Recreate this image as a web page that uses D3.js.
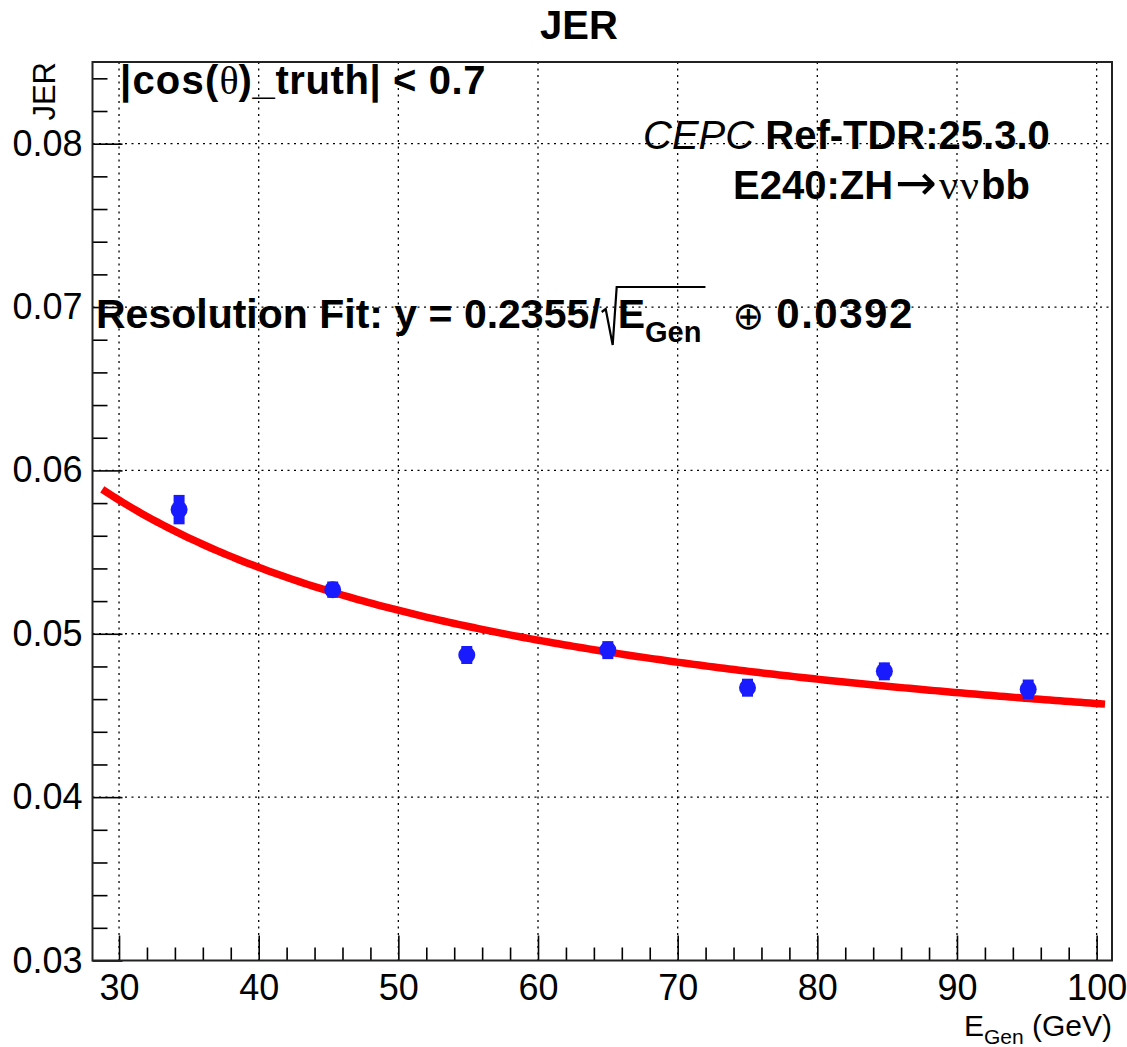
<!DOCTYPE html>
<html>
<head>
<meta charset="utf-8">
<script src="https://cdn.jsdelivr.net/npm/d3@7"></script>
<style>
  html, body { margin: 0; padding: 0; background: #ffffff; }
  svg { display: block; }
</style>
</head>
<body>
<script>
// Jet energy resolution versus generated energy, |cos(theta)| < 0.7
const energies  = [34.3, 45.3, 54.9, 65.0, 75.0, 84.8, 95.1];
const jerValues = [0.0576, 0.0527, 0.0487, 0.0490, 0.0467, 0.0477, 0.0466];
const jerErrors = [0.00090, 0.00050, 0.00055, 0.00055, 0.00055, 0.00055, 0.00060];

// Resolution fit: sqrt((a/sqrt(E))^2 + b^2)
const fitStochastic = 0.2355;
const fitConstant   = 0.0392;
const fitRange      = [28.8, 100.6];

const xMajorTicks = [30, 40, 50, 60, 70, 80, 90, 100];
const xMinorTicks = d3.range(32, 100, 2).filter(v => v % 10 !== 0);
const yMajorTicks = [0.03, 0.04, 0.05, 0.06, 0.07, 0.08];
const yMinorTicks = d3.range(16, 43).map(i => i * 0.002).filter(v => Math.abs(v * 100 - Math.round(v * 100)) > 1e-6);

const W = 1127, H = 1047;
const frame = { left: 92.5, top: 62, right: 1112, bottom: 960.5 };
const SANS = "'Liberation Sans', Arial, Helvetica, sans-serif";
const SERIF = "'Liberation Serif', 'DejaVu Serif', serif";
const SYMB = "'DejaVu Sans', sans-serif";

const svg = d3.select("body").append("svg")
  .attr("width", W).attr("height", H)
  .attr("viewBox", `0 0 ${W} ${H}`);
svg.append("rect").attr("width", W).attr("height", H).attr("fill", "#fff");

const x = d3.scaleLinear().domain([28.1, 101.1]).range([frame.left, frame.right]);
const y = d3.scaleLinear().domain([0.03, 0.085]).range([frame.bottom, frame.top]);

// dotted grid at major ticks
const grid = svg.append("g").attr("stroke", "#000").attr("stroke-width", 1.3)
  .attr("stroke-dasharray", "2,4.5").attr("fill", "none");
grid.selectAll("line.vx").data(xMajorTicks).join("line")
  .attr("x1", d => x(d)).attr("x2", d => x(d))
  .attr("y1", frame.top).attr("y2", frame.bottom);
grid.selectAll("line.hy").data(yMajorTicks.filter(v => v > 0.03)).join("line")
  .attr("x1", frame.left).attr("x2", frame.right)
  .attr("y1", d => y(d)).attr("y2", d => y(d));

// axes (ticks point inwards)
function styleAxis(g) {
  g.select(".domain").remove();
  g.selectAll(".tick line").attr("stroke", "#000").attr("stroke-width", 1.6);
  g.selectAll("text").attr("fill", "#000").style("font-family", SANS).style("font-size", "36px");
}
svg.append("g").attr("transform", `translate(0,${frame.bottom})`)
  .call(d3.axisBottom(x).tickValues(xMajorTicks).tickSize(-25).tickPadding(14).tickFormat(d3.format("d")))
  .call(styleAxis);
svg.append("g").attr("transform", `translate(0,${frame.bottom})`)
  .call(d3.axisBottom(x).tickValues(xMinorTicks).tickSize(-13).tickFormat(""))
  .call(styleAxis);
svg.append("g").attr("transform", `translate(${frame.left},0)`)
  .call(d3.axisLeft(y).tickValues(yMajorTicks).tickSize(-30).tickPadding(10).tickFormat(d3.format(".2f")))
  .call(styleAxis);
svg.append("g").attr("transform", `translate(${frame.left},0)`)
  .call(d3.axisLeft(y).tickValues(yMinorTicks).tickSize(-15).tickFormat(""))
  .call(styleAxis);

// fit curve
const fitFn = e => Math.sqrt(Math.pow(fitStochastic / Math.sqrt(e), 2) + fitConstant * fitConstant);
const fitSamples = d3.range(0, 201).map(i => fitRange[0] + (fitRange[1] - fitRange[0]) * i / 200);
svg.append("path")
  .datum(fitSamples)
  .attr("fill", "none").attr("stroke", "#ff0000").attr("stroke-width", 7.5)
  .attr("d", d3.line().x(e => x(e)).y(e => y(fitFn(e))));

// data points with error bars
const pts = energies.map((e, i) => ({ e, v: jerValues[i], err: jerErrors[i] }));
const pg = svg.append("g");
pg.selectAll("line").data(pts).join("line")
  .attr("x1", d => x(d.e)).attr("x2", d => x(d.e))
  .attr("y1", d => y(d.v - d.err)).attr("y2", d => y(d.v + d.err))
  .attr("stroke", "#1a1aff").attr("stroke-width", 11);
pg.selectAll("circle").data(pts).join("circle")
  .attr("cx", d => x(d.e)).attr("cy", d => y(d.v)).attr("r", 8.5)
  .attr("fill", "#1a1aff");

// frame
svg.append("rect")
  .attr("x", frame.left).attr("y", frame.top)
  .attr("width", frame.right - frame.left).attr("height", frame.bottom - frame.top)
  .attr("fill", "none").attr("stroke", "#222").attr("stroke-width", 2);

// sequential text runs, each a separate element so widths can be measured
function runs(x0, baseline, list) {
  let cx = x0;
  const out = [];
  list.forEach(r => {
    const t = svg.append("text")
      .attr("x", cx).attr("y", baseline + (r.dy || 0))
      .style("font-family", r.family || SANS)
      .style("font-weight", r.weight || "bold")
      .style("font-style", r.style || "normal")
      .style("font-size", (r.size || 40) + "px")
      .style("letter-spacing", (r.ls || 0) + "px")
      .style("white-space", "pre")
      .text(r.text);
    const w = t.node().getComputedTextLength();
    out.push({ x: cx, w, node: t });
    cx += w + (r.gap || 0);
  });
  return { end: cx, parts: out };
}

// title
svg.append("text").attr("x", 579).attr("y", 39).attr("text-anchor", "middle")
  .style("font-family", SANS).style("font-weight", "bold").style("font-size", "40px")
  .text("JER");

// y-axis title, right-aligned to the top of the frame
svg.append("text").attr("transform", `translate(55,${frame.top}) rotate(-90)`)
  .attr("text-anchor", "end")
  .style("font-family", SANS).style("font-size", "31px")
  .text("JER");

// x-axis title, right-aligned to the frame edge
const xTitle = runs(0, 1036, [
  { text: "E", size: 30, weight: "normal" },
  { text: "Gen", size: 21, weight: "normal", dy: 8 },
  { text: " (GeV)", size: 30, weight: "normal" }
]);
const shift = frame.right - xTitle.end;
xTitle.parts.forEach(p => p.node.attr("x", p.x + shift));

runs(120, 94, [
  { text: "|cos(", size: 40, ls: 1.2 },
  { text: "\u03b8", size: 40, weight: "normal", family: SERIF },
  { text: ")_truth| < 0.7", size: 40, ls: 0.6 }
]);

runs(643, 149, [
  { text: "CEPC", size: 40, weight: "normal", style: "italic" },
  { text: " Ref-TDR:25.3.0", size: 40 }
]);

runs(733, 199, [
  { text: "E240:ZH", size: 40, gap: 2 },
  { text: "\u2192", size: 50, weight: "normal", family: SYMB, dy: 1, gap: 2 },
  { text: "\u03bd\u03bd", size: 42, weight: "normal", family: SERIF, ls: 2 },
  { text: "bb", size: 40 }
]);

// resolution formula with a drawn radical sign
const fb = 328;
const first = runs(96, fb, [{ text: "Resolution Fit: y = 0.2355/", size: 41 }]);
const radStart = first.end + 1;
const underRad = runs(radStart + 16, fb, [
  { text: "E", size: 41 },
  { text: "Gen", size: 29, dy: 14 }
]);
const radEnd = underRad.end + 4;
svg.append("path")
  .attr("d", `M${radStart},${fb - 16} L${radStart + 4},${fb - 19} L${radStart + 11},${fb + 17} L${radStart + 15},${fb - 41} L${radEnd},${fb - 41}`)
  .attr("fill", "none").attr("stroke", "#000").attr("stroke-width", 2.2);
runs(radEnd + 27, fb, [
  { text: "\u2295", size: 38, weight: "normal", family: SYMB, dy: 1, gap: 12 },
  { text: "0.0392", size: 42, ls: 1.5 }
]);
</script>
</body>
</html>
